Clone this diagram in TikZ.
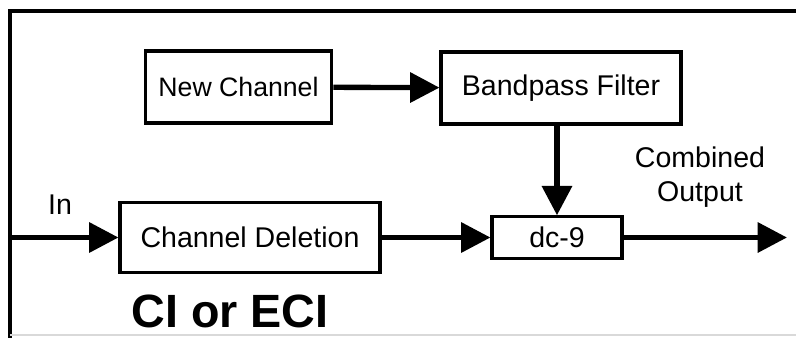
\documentclass[tikz,border=0pt]{standalone}
\usepackage{fontspec}
\setmainfont{Liberation Sans}
\usetikzlibrary{arrows.meta,calc}
\begin{document}
\begin{tikzpicture}[x=0.75pt,y=-0.75pt,
  blk/.style={draw=black,line width=2.3pt,fill=white,inner sep=0pt,font=\fontsize{21.4}{25}\selectfont},
  conn/.style={line width=4pt,-{Triangle[length=22pt,width=22pt]}},
  lbl/.style={font=\fontsize{21.4}{26}\selectfont,align=center,inner sep=0pt}]
\useasboundingbox (0,0) rectangle (796,337);
\fill[white] (0,0) rectangle (796,337);
% frame
\draw[line width=3pt] (10,340) -- (10,11) -- (800,11);
\draw[black!15,line width=0.8pt] (10,335) -- (796,335);
% blocks
\node[blk,minimum width=140pt,minimum height=54pt,font=\fontsize{20}{24}\selectfont] (nc) at (238.5,87) {New Channel};
\node[blk,minimum width=180pt,minimum height=54pt] (bp) at (561,88) {Bandpass Filter};
\node[blk,minimum width=195pt,minimum height=53pt] (cd) at (250,237.5) {Channel Deletion};
\node[blk,minimum width=97.5pt,minimum height=31pt] (dc) at (557,237.5) {dc-9};
% labels
\node[lbl] (in) at (60,205) {In};
\node[lbl] (co) at (700,177) {Combined\\Output};
\node[font=\bfseries\fontsize{35}{40}\selectfont,inner sep=0pt] (ci) at (230,311) {CI or ECI};
% free ends
\coordinate (inp) at (10,237.5);
\coordinate (outp) at (787,237.5);
% connectors
\draw[conn] (nc) -- (bp);
\draw[conn] (dc.north |- bp.south) -- (dc.north);
\draw[conn] (inp) -- (cd.west);
\draw[conn] (cd.east) -- (dc.west);
\draw[conn] (dc.east) -- (outp);
\end{tikzpicture}
\end{document}
